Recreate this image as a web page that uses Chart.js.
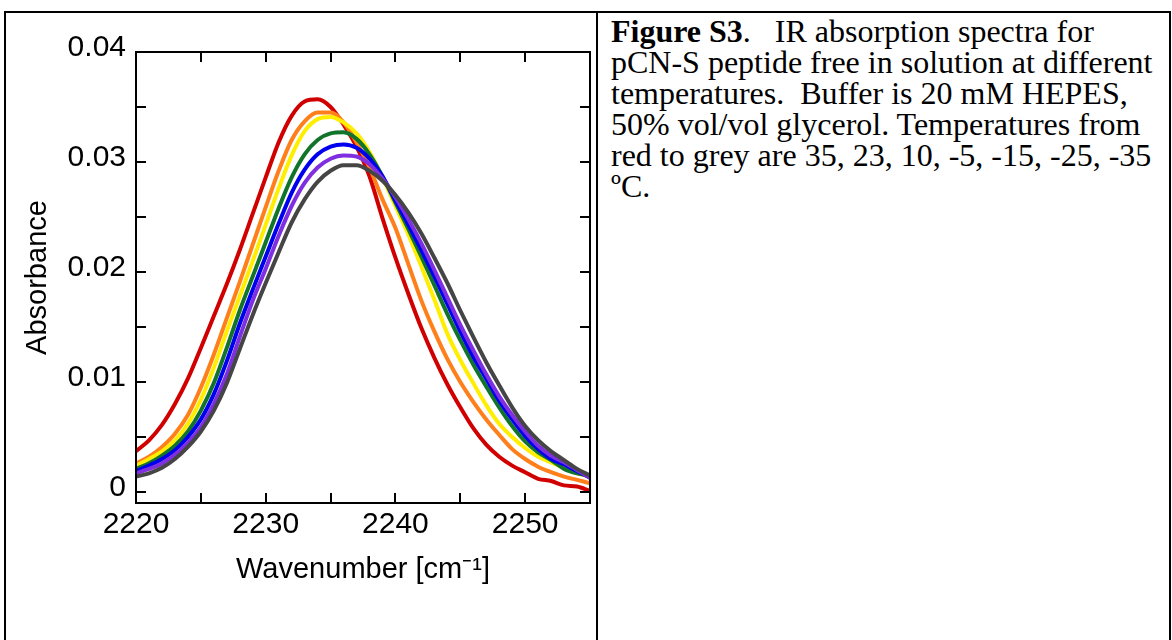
<!DOCTYPE html>
<html>
<head>
<meta charset="utf-8">
<script src="https://cdn.jsdelivr.net/npm/chart.js@4.4.1/dist/chart.umd.min.js"></script>
<style>
  html, body { margin: 0; padding: 0; background: #fff; }
  body { width: 1172px; height: 640px; position: relative; overflow: hidden; }
  #frame { position: absolute; left: 4px; top: 11px; width: 1163px; height: 700px; border: 2px solid #000; }
  #divider { position: absolute; left: 596px; top: 11px; width: 2px; height: 700px; background: #000; }
  #chart { position: absolute; left: 0; top: 0; }
  #caption {
    position: absolute; left: 611px; top: 16px;
    font-family: "Liberation Serif", "Times New Roman", serif;
    font-size: 32px; line-height: 31px; color: #000; white-space: nowrap;
  }
</style>
</head>
<body>
<div id="frame"></div>
<div id="divider"></div>
<canvas id="chart" width="597" height="640"></canvas>
<div id="caption"><b>Figure S3</b>.&nbsp;&nbsp; IR absorption spectra for<br>pCN-S peptide free in solution at different<br>temperatures.&nbsp; Buffer is 20 mM HEPES,<br>50% vol/vol glycerol. Temperatures from<br>red to grey are 35, 23, 10, -5, -15, -25, -35<br>ºC.</div>
<script>
// wavenumber grid (cm-1) and absorbance
const wavenumbers = [
  2220, 2221, 2222, 2223, 2224, 2225, 2226, 2227, 2228, 2229, 2230, 2231,
  2232, 2233, 2234, 2235, 2236, 2237, 2238, 2239, 2240, 2241, 2242, 2243,
  2244, 2245, 2246, 2247, 2248, 2249, 2250, 2251, 2252, 2253, 2254, 2255
];
const abs35 = [
  .0037, .0047, .0061, .0080, .0103, .0131, .0160, .0189, .0220, .0253, .0286, .0318,
  .0342, .0355, .0357, .0350, .0334, .0314, .0287, .0249, .0213, .0180, .0149, .0122,
  .0098, .0077, .0058, .0043, .0032, .0024, .0018, .0012, .0010, .0006, .0005, .0001
];
const abs23 = [
  .0026, .0032, .0041, .0053, .0070, .0095, .0125, .0158, .0191, .0225, .0259, .0292,
  .0320, .0337, .0345, .0345, .0336, .0318, .0295, .0266, .0240, .0207, .0174, .0146,
  .0121, .0100, .0082, .0066, .0052, .0039, .0030, .0023, .0018, .0014, .0011, .0008
];
const abs10 = [
  .0024, .0030, .0037, .0047, .0062, .0084, .0113, .0146, .0178, .0210, .0243, .0276,
  .0306, .0328, .0339, .0341, .0336, .0326, .0309, .0286, .0260, .0234, .0205, .0175,
  .0144, .0120, .0099, .0079, .0062, .0050, .0040, .0032, .0027, .0022, .0017, .0014
];
const absM5 = [
  .0021, .0026, .0033, .0042, .0055, .0074, .0099, .0131, .0165, .0196, .0227, .0258,
  .0286, .0307, .0320, .0326, .0327, .0321, .0307, .0287, .0263, .0239, .0214, .0188,
  .0162, .0138, .0116, .0096, .0077, .0060, .0046, .0036, .0029, .0021, .0017, .0015
];
const absM15 = [
  .0019, .0024, .0030, .0038, .0050, .0066, .0089, .0119, .0153, .0184, .0214, .0244,
  .0272, .0293, .0307, .0314, .0316, .0313, .0303, .0287, .0265, .0243, .0220, .0196,
  .0171, .0146, .0123, .0103, .0083, .0066, .0051, .0039, .0030, .0025, .0019, .0013
];
const absM25 = [
  .0017, .0021, .0026, .0034, .0045, .0059, .0080, .0107, .0141, .0174, .0203, .0233,
  .0260, .0281, .0295, .0303, .0306, .0305, .0298, .0285, .0268, .0248, .0226, .0202,
  .0177, .0152, .0129, .0107, .0087, .0070, .0055, .0042, .0033, .0027, .0020, .0013
];
const absM35 = [
  .0014, .0017, .0022, .0030, .0041, .0055, .0074, .0099, .0130, .0161, .0190, .0218,
  .0245, .0266, .0282, .0292, .0297, .0297, .0292, .0283, .0270, .0254, .0235, .0213,
  .0190, .0165, .0141, .0118, .0097, .0077, .0060, .0047, .0037, .0029, .0021, .0015
];

const seriesLabels = ["35 ºC", "23 ºC", "10 ºC", "-5 ºC", "-15 ºC", "-25 ºC", "-35 ºC"];
const seriesValues = [abs35, abs23, abs10, absM5, absM15, absM25, absM35];
const seriesColors = ["#d10000", "#ff7f1a", "#ffee00", "#12742a", "#0000ee", "#7f2fe0", "#454545"];

const xTickValues = [2220, 2225, 2230, 2235, 2240, 2245, 2250, 2255];
const xLabelValues = [2220, 2230, 2240, 2250];
const yTickValues = [0, 0.005, 0.01, 0.015, 0.02, 0.025, 0.03, 0.035, 0.04];
const yLabelValues = [0, 0.01, 0.02, 0.03, 0.04];

const TICK_LENGTH = 10;

// box around the plot with inward ticks on all four sides
const frameTicks = {
  id: "frameTicks",
  afterDatasetsDraw(chart) {
    const { ctx, chartArea: area, scales } = chart;
    ctx.save();
    ctx.strokeStyle = "#000";
    ctx.lineWidth = 2;
    ctx.beginPath();
    xTickValues.forEach((value) => {
      const px = Math.round(scales.x.getPixelForValue(value));
      ctx.moveTo(px, area.bottom);
      ctx.lineTo(px, area.bottom - TICK_LENGTH);
      ctx.moveTo(px, area.top);
      ctx.lineTo(px, area.top + TICK_LENGTH);
    });
    yTickValues.forEach((value) => {
      const py = Math.round(scales.y.getPixelForValue(value));
      ctx.moveTo(area.left, py);
      ctx.lineTo(area.left + TICK_LENGTH, py);
      ctx.moveTo(area.right, py);
      ctx.lineTo(area.right - TICK_LENGTH, py);
    });
    ctx.stroke();
    ctx.strokeRect(area.left, area.top, area.right - area.left, area.bottom - area.top);
    ctx.restore();
  },
};

Chart.defaults.font.family = '"Liberation Sans", Arial, sans-serif';
Chart.defaults.font.size = 30;
Chart.defaults.color = "#000";

new Chart(document.getElementById("chart").getContext("2d"), {
  type: "line",
  data: {
    datasets: seriesValues.map((values, index) => ({
      label: seriesLabels[index],
      data: values.map((value, i) => ({ x: wavenumbers[i], y: value })),
      borderColor: seriesColors[index],
      backgroundColor: seriesColors[index],
      borderWidth: 4,
      pointRadius: 0,
      cubicInterpolationMode: "monotone",
      fill: false,
      order: seriesValues.length - index,
    })),
  },
  options: {
    responsive: false,
    devicePixelRatio: 1,
    animation: false,
    layout: { padding: { top: 52, right: 7, bottom: 53, left: 21 } },
    plugins: { legend: { display: false }, tooltip: { enabled: false } },
    scales: {
      x: {
        type: "linear",
        min: 2220,
        max: 2255,
        grid: { display: false, drawTicks: false },
        border: { display: false },
        afterBuildTicks: (scale) => {
          scale.ticks = xLabelValues.map((value) => ({ value }));
        },
        afterFit: (scale) => {
          scale.height = 84;
        },
        ticks: { padding: 4, maxRotation: 0, autoSkip: false, callback: (value) => String(value) },
        title: { display: true, text: "Wavenumber [cm⁻¹]", padding: 0, font: { size: 29 } },
      },
      y: {
        min: -0.001,
        max: 0.04,
        grid: { display: false, drawTicks: false },
        border: { display: false },
        afterBuildTicks: (scale) => {
          scale.ticks = yLabelValues.map((value) => ({ value }));
        },
        afterFit: (scale) => {
          scale.width = 115;
        },
        ticks: { padding: 10, labelOffset: -4, autoSkip: false, callback: (value) => String(value) },
        title: { display: true, text: "Absorbance", padding: 0, font: { size: 29 } },
      },
    },
  },
  plugins: [frameTicks],
});
</script>
</body>
</html>
